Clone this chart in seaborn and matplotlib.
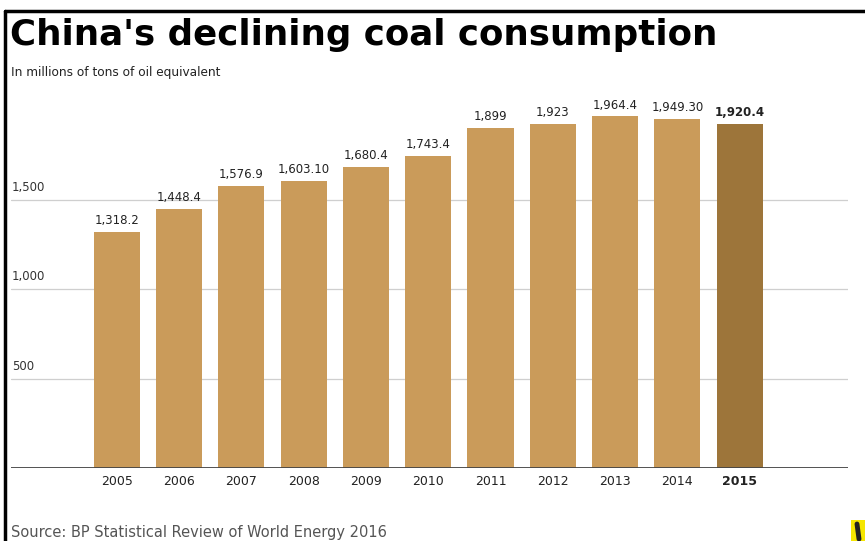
import matplotlib
matplotlib.use("Agg")
import matplotlib.pyplot as plt
import matplotlib.transforms as mtransforms
from matplotlib.lines import Line2D
from matplotlib.patches import Rectangle
import seaborn as sns
import pandas as pd

# Data
years = ["2005", "2006", "2007", "2008", "2009", "2010", "2011", "2012", "2013", "2014", "2015"]
values = [1318.2, 1448.4, 1576.9, 1603.10, 1680.4, 1743.4, 1899, 1923, 1964.4, 1949.30, 1920.4]
value_labels = ["1,318.2", "1,448.4", "1,576.9", "1,603.10", "1,680.4", "1,743.4",
                "1,899", "1,923", "1,964.4", "1,949.30", "1,920.4"]
grid_ticks = [500, 1000, 1500]
grid_labels = ["500", "1,000", "1,500"]

TITLE = "China's declining coal consumption"
SUBTITLE = "In millions of tons of oil equivalent"
SOURCE = "Source: BP Statistical Review of World Energy 2016"

BAR = "#CA9B5A"
BAR_HI = "#9D753A"
colors = [BAR] * (len(years) - 1) + [BAR_HI]

sns.set_theme(style="white")
plt.rcParams["font.family"] = ["DejaVu Sans"]

W, H = 865, 541
fig = plt.figure(figsize=(W / 100, H / 100), dpi=100)
fig.patch.set_facecolor("white")

# Axes placed in pixel terms: baseline at y=468, plot spans x 11..848
ax = fig.add_axes([11 / W, 1 - 468 / H, (848 - 11) / W, (468 - 100) / H])
ax.set_facecolor("white")

df = pd.DataFrame({"year": years, "value": values})
sns.barplot(data=df, x="year", y="value", hue="year", palette=colors,
            width=0.74, legend=False, ax=ax, zorder=3, saturation=1,
            linewidth=0, edgecolor="none")

ax.set_xlim(-1.70, 11.74)
ax.set_ylim(0, 2056)

# Gridlines and labels sitting above each line
trans = mtransforms.blended_transform_factory(ax.transAxes, ax.transData)
for v, lab in zip(grid_ticks, grid_labels):
    ax.axhline(v, color="#cfcfcf", lw=0.9, zorder=1)
    ax.annotate(lab, xy=(0.001, v), xycoords=trans, xytext=(0, 4),
                textcoords="offset points", ha="left", va="bottom",
                fontsize=8.5, color="#333333")
ax.axhline(0, color="#444444", lw=1.3, zorder=4)

# Value labels above bars
for i, (v, lab) in enumerate(zip(values, value_labels)):
    last = i == len(values) - 1
    ax.annotate(lab, xy=(i, v), xytext=(0, 3.5), textcoords="offset points",
                ha="center", va="bottom", fontsize=8.5,
                fontweight="bold" if last else "normal",
                color="#222222")

for s in ax.spines.values():
    s.set_visible(False)
ax.set_yticks([])
ax.set_xlabel("")
ax.set_ylabel("")
ax.tick_params(axis="x", length=0, pad=5, labelsize=9, labelcolor="#222222")
ax.set_xticks(range(len(years)))
ax.set_xticklabels(years)
ax.get_xticklabels()[-1].set_fontweight("bold")

# Titles and source
fig.text(10 / W, 1 - 45 / H, TITLE, ha="left", va="baseline",
         fontsize=25.7, fontweight="bold", color="black")
fig.text(11 / W, 1 - 73 / H, SUBTITLE, ha="left", va="center",
         fontsize=8.7, color="#222222")
fig.text(11 / W, 1 - 533 / H, SOURCE, ha="left", va="center",
         fontsize=10.5, color="#555555")

# Frame lines at top and left
fig.add_artist(Line2D([4.5 / W, 4.5 / W], [0, 1 - 11 / H], color="black", lw=2.5))
fig.add_artist(Line2D([4.5 / W, 1], [1 - 11 / H, 1 - 11 / H], color="black", lw=2.5))

# Logo corner: yellow tab with a dark stroke
fig.add_artist(Rectangle((851 / W, 0), 14 / W, 21 / H, transform=fig.transFigure,
                         facecolor="#f5e600", edgecolor="none"))
fig.add_artist(Line2D([857 / W, 859 / W], [17 / H, 2 / H], color="#222222", lw=3.5))

fig.savefig("out.png", dpi=100, facecolor="white")
